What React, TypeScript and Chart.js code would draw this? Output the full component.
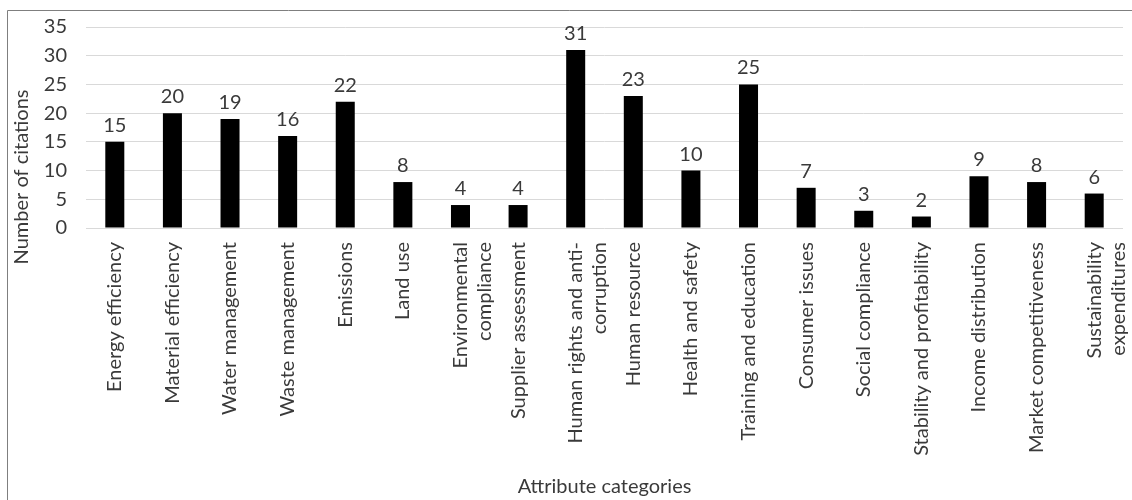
import React, { useEffect, useRef } from "react";
import { Chart, registerables } from "chart.js";

Chart.register(...registerables);

const categories: (string | string[])[] = [
  "Energy efficiency",
  "Material efficiency",
  "Water management",
  "Waste management",
  "Emissions",
  "Land use",
  ["Environmental", "compliance"],
  "Supplier assessment",
  ["Human rights and anti-", "corruption"],
  "Human resource",
  "Health and safety",
  "Training and education",
  "Consumer issues",
  "Social compliance",
  "Stability and profitability",
  "Income distribution",
  "Market competitiveness",
  ["Sustainability", "expenditures"],
];

const citations = [15, 20, 19, 16, 22, 8, 4, 4, 31, 23, 10, 25, 7, 3, 2, 9, 8, 6];

const yMin = 0;
const yMax = 35;
const yStep = 5;

const yTitle = "Number of citations";
const xTitle = "Attribute categories";

const FONT = "Lato";
const SIZE = 20;
const TEXT = "#3a3a3a";

export default function App() {
  const ref = useRef<HTMLCanvasElement | null>(null);

  useEffect(() => {
    document.body.style.margin = "0";
    const canvas = ref.current;
    if (!canvas) return;

    const framePlugin = {
      id: "frame",
      beforeDraw(chart: any) {
        const ctx = chart.ctx;
        ctx.save();
        ctx.fillStyle = "#ffffff";
        ctx.fillRect(0, 0, chart.width, chart.height);
        ctx.strokeStyle = "#7f7f7f";
        ctx.lineWidth = 1;
        ctx.beginPath();
        ctx.moveTo(7.5, chart.height);
        ctx.lineTo(7.5, 10.5);
        ctx.lineTo(chart.width, 10.5);
        ctx.stroke();
        ctx.restore();
      },
      afterDraw(chart: any) {
        const ctx = chart.ctx;
        ctx.save();
        ctx.fillStyle = TEXT;
        ctx.font = `${SIZE}px ${FONT}`;
        ctx.textAlign = "center";
        ctx.textBaseline = "middle";
        ctx.translate(22, 177);
        ctx.rotate(-Math.PI / 2);
        ctx.fillText(yTitle, 0, 0);
        ctx.restore();
      },
    };

    const valueLabels = {
      id: "valueLabels",
      afterDatasetsDraw(chart: any) {
        const ctx = chart.ctx;
        const meta = chart.getDatasetMeta(0);
        ctx.save();
        ctx.fillStyle = TEXT;
        ctx.font = `${SIZE}px ${FONT}`;
        ctx.textAlign = "center";
        ctx.textBaseline = "alphabetic";
        meta.data.forEach((bar: any, i: number) => {
          ctx.fillText(String(citations[i]), bar.x, bar.y - 10);
        });
        ctx.restore();
      },
    };

    const chart = new Chart(canvas, {
      type: "bar",
      data: {
        labels: categories as any,
        datasets: [
          {
            data: citations,
            backgroundColor: "#000000",
            borderWidth: 0,
            barPercentage: 0.33,
            categoryPercentage: 1,
          },
        ],
      },
      options: {
        animation: false,
        responsive: true,
        maintainAspectRatio: false,
        layout: { padding: { top: 27, right: 9, left: 0, bottom: 0 } },
        plugins: {
          legend: { display: false },
          tooltip: { enabled: false },
        },
        scales: {
          x: {
            grid: { display: false, drawTicks: false },
            border: { display: false },
            ticks: {
              color: TEXT,
              font: { family: FONT, size: SIZE },
              maxRotation: 90,
              minRotation: 90,
              autoSkip: false,
              padding: 14,
            },
            title: {
              display: true,
              text: xTitle,
              color: TEXT,
              font: { family: FONT, size: SIZE },
              padding: { top: 0, bottom: 1 },
            },
            afterFit(scale: any) {
              scale.height = 272;
              scale.paddingLeft = 0;
              scale.paddingRight = 0;
            },
          },
          y: {
            min: yMin,
            max: yMax,
            grid: { color: "#d9d9d9", drawTicks: false },
            border: { display: false },
            ticks: {
              stepSize: yStep,
              color: TEXT,
              font: { family: FONT, size: SIZE },
              padding: 19,
            },
            afterFit(scale: any) {
              scale.width = 86;
              scale.paddingTop = 0;
              scale.paddingBottom = 0;
            },
          },
        },
      },
      plugins: [framePlugin, valueLabels],
    });

    return () => chart.destroy();
  }, []);

  return (
    <div style={{ position: "relative", width: 1132, height: 500 }}>
      <canvas ref={ref} />
    </div>
  );
}
